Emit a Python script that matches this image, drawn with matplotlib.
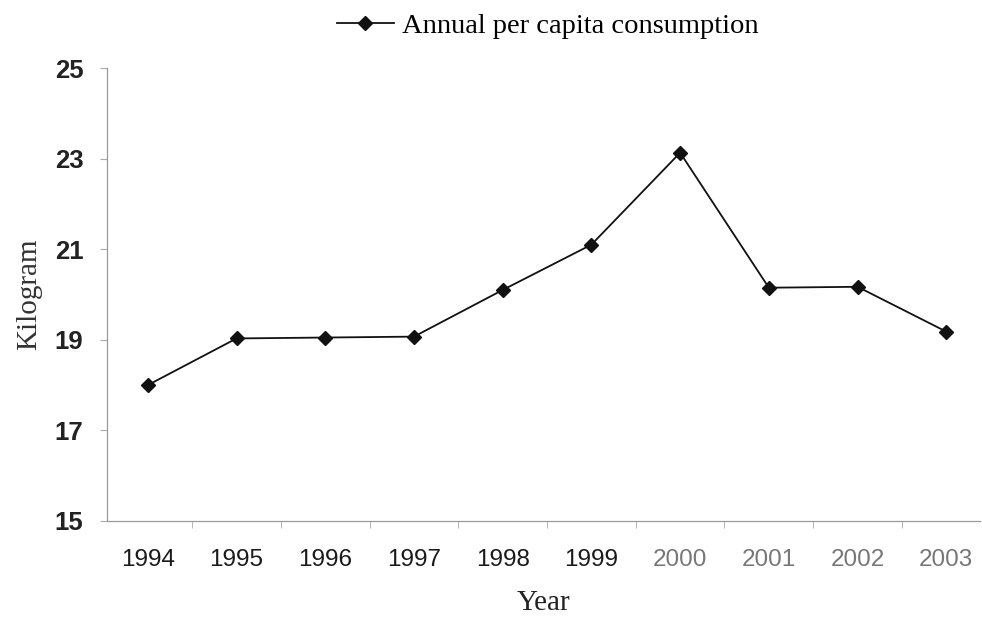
import matplotlib
matplotlib.use("Agg")
import matplotlib.pyplot as plt
from matplotlib.ticker import FixedLocator

years = ["1994", "1995", "1996", "1997", "1998", "1999", "2000", "2001", "2002", "2003"]
consumption = [18.0, 19.03, 19.05, 19.07, 20.1, 21.1, 23.13, 20.15, 20.17, 19.18]
label_colors = ["#1a1a1a"] * 6 + ["#777777"] * 4
yticks = [15, 17, 19, 21, 23, 25]

fig = plt.figure(figsize=(9.82, 6.18), dpi=100)
ax = fig.add_axes([107 / 982, 1 - 521 / 618, 873 / 982, (521 - 68) / 618])

x = list(range(len(years)))
line, = ax.plot(x, consumption, color="#111111", lw=1.3, marker="D", markersize=7.5,
                markerfacecolor="#111111", markeredgecolor="#111111",
                label="Annual per capita consumption")

ax.set_xlim(-0.46, 9.38)
ax.set_ylim(15, 25)
ax.set_yticks(yticks)
ax.set_yticklabels([str(t) for t in yticks], fontfamily="Liberation Sans",
                   fontsize=18.5, fontweight="bold", color="#222222")
ax.set_xticks(x)
ax.set_xticklabels(years, fontfamily="Liberation Sans", fontsize=17.5)
for lbl, c in zip(ax.get_xticklabels(), label_colors):
    lbl.set_color(c)
ax.tick_params(axis="x", which="major", length=0, pad=20)
ax.xaxis.set_minor_locator(FixedLocator([i + 0.5 for i in range(-1, 10)]))
ax.tick_params(axis="x", which="minor", length=5, color="#aaaaaa", direction="out")
ax.tick_params(axis="y", length=5, color="#aaaaaa", pad=12)

for s in ["top", "right"]:
    ax.spines[s].set_visible(False)
for s in ["left", "bottom"]:
    ax.spines[s].set_color("#999999")
    ax.spines[s].set_linewidth(0.9)

ax.set_ylabel("Kilogram", fontfamily="Liberation Serif", fontsize=21, color="#333333", labelpad=9)
ax.set_xlabel("Year", fontfamily="Liberation Serif", fontsize=21, color="#222222", labelpad=14)

fig.legend(handles=[line], loc="center", bbox_to_anchor=(548 / 982, 1 - 26 / 618),
           frameon=False, prop={"family": "Liberation Serif", "size": 20.5},
           handlelength=2.0, handletextpad=0.3)

fig.savefig("out.png", dpi=100)
